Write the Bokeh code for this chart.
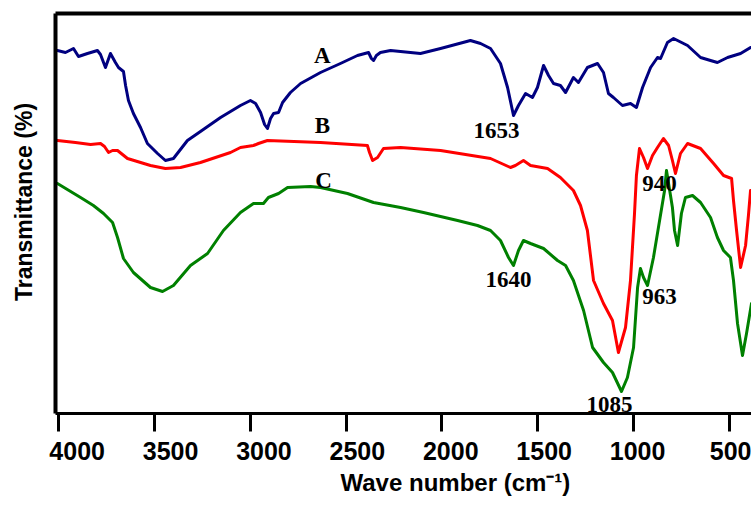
from bokeh.plotting import figure
from bokeh.models import Range1d, FixedTicker, LinearAxis, Title, CustomLabelingPolicy
from bokeh.core.properties import value
from bokeh.embed import file_html
from bokeh.resources import INLINE

# ---- data (wave number in cm-1, transmittance in arbitrary %) ----
wn_a = [4008, 3966, 3924, 3898, 3851, 3799, 3783, 3757, 3731, 3705, 3689, 3663, 3652, 3637,
        3611, 3574, 3538, 3485, 3444, 3402, 3329, 3261, 3156, 3052, 3000, 2973, 2947, 2926,
        2911, 2895, 2879, 2853, 2832, 2791, 2738, 2634, 2530, 2441, 2383, 2368, 2357, 2342,
        2321, 2268, 2112, 2007, 1851, 1798, 1746, 1694, 1657, 1626, 1600, 1563, 1527, 1501,
        1469, 1443, 1417, 1381, 1354, 1313, 1287, 1240, 1187, 1156, 1130, 1104, 1057, 1015,
        984, 952, 910, 874, 858, 822, 790, 717, 649, 597, 561, 508, 440, 388]
t_a = [90.75, 90.25, 91.25, 89.25, 90, 90.75, 89.75, 86.5, 90, 87.75, 86.5, 85.5, 82, 78.25,
       75, 71.5, 67.5, 65, 63.25, 63.75, 68.25, 70.5, 74, 77, 78.25, 77.5, 75.25, 72.25,
       71.25, 73.75, 75, 75.25, 77.75, 80.25, 82.5, 85.25, 87.5, 89.5, 90.25, 88.75, 88.25, 89.5,
       90.25, 90.75, 90, 91.25, 93.25, 92.5, 91.25, 87.5, 81.5, 74.5, 77, 80, 79, 81.5,
       87, 84.5, 82.5, 82, 80.25, 84, 82.75, 86.5, 87.5, 85.25, 80, 79, 77, 77.5,
       76.5, 81.5, 86.5, 89, 88.75, 92.75, 93.75, 92, 89, 88.25, 87.75, 89, 90, 91.5]

wn_b = [4008, 3914, 3835, 3783, 3762, 3741, 3720, 3694, 3668, 3642, 3522, 3444, 3365, 3261,
        3104, 3052, 2984, 2958, 2911, 2634, 2389, 2378, 2362, 2336, 2305, 2216, 2007, 1746,
        1642, 1616, 1574, 1537, 1448, 1381, 1313, 1276, 1240, 1208, 1156, 1109, 1078, 1041,
        1015, 994, 984, 968, 947, 926, 900, 874, 843, 816, 796, 780, 754, 717, 649, 581,
        529, 487, 477, 461, 440, 414, 399, 388]
t_b = [68.25, 67.75, 67.25, 67.5, 66.75, 65.25, 65.75, 65.75, 64.75, 63.75, 62, 61.25, 61.5, 62.75,
       65.25, 66.5, 67, 67.5, 68.25, 67.75, 67, 65.25, 63.25, 64, 66.25, 66.5, 65.75, 63.75,
       61.5, 62, 63.25, 62, 61.25, 59, 55.75, 52, 45.75, 33.25, 27.5, 23.25, 15.25, 21.5,
       33.25, 50, 59.5, 66.25, 64, 61.25, 64.5, 66.5, 68.75, 67, 63.25, 60, 65, 67.5, 66.25, 62.5,
       59.5, 58.75, 53.25, 45.75, 36.5, 42, 49.5, 55.75]

wn_c = [4008, 3887, 3820, 3767, 3720, 3694, 3663, 3611, 3522, 3459, 3402, 3313, 3224, 3141,
        3052, 2984, 2932, 2906, 2853, 2806, 2686, 2634, 2493, 2357, 2216, 2096, 1918, 1814,
        1746, 1694, 1652, 1626, 1600, 1574, 1537, 1469, 1396, 1354, 1313, 1260, 1213, 1156,
        1109, 1062, 1031, 999, 978, 963, 947, 926, 895, 863, 837, 827, 806, 796, 785, 769,
        749, 728, 691, 649, 597, 561, 529, 493, 477, 456, 430, 409, 383]
t_c = [57.5, 54, 52, 50, 47.75, 44, 38.75, 35.25, 31.5, 30.5, 32, 37, 40, 45.75,
       50.25, 52.5, 52.5, 54, 55, 56.5, 56.75, 56.5, 55, 52.75, 51.5, 50.25, 48.25, 47,
       45.75, 43.25, 39, 37, 40.75, 43.25, 42.5, 41.25, 38.25, 37, 33.25, 25.75, 16.5, 12.75,
       10.25, 5.5, 9, 16.5, 31.5, 36.25, 34, 32, 39, 48.25, 55.75, 60.75, 54.5, 51.5, 45.75, 42,
       50, 54, 54.5, 52.75, 49, 44, 40.75, 39, 33.25, 22.5, 14.5, 20, 27.5]

ann_text = ["A", "B", "C", "1653", "1640", "1085", "963", "940"]
ann_x = [2624, 2624, 2618, 1715, 1652, 1125, 863, 863]
ann_y = [89.5, 72, 58.25, 70.75, 33.5, 2.25, 29.25, 57.5]

tick_values = [4000, 3500, 3000, 2500, 2000, 1500, 1000, 500]

# ---- figure ----
p = figure(width=751, height=506, x_range=Range1d(4018, 383), y_range=Range1d(0, 100),
           output_backend="svg", toolbar_location=None,
           min_border_left=55, min_border_right=0, min_border_top=13, min_border_bottom=93)
p.outline_line_color = None
p.grid.visible = False
p.background_fill_color = "white"
p.border_fill_color = "white"
# the printed tick numbers of the original sit on a slightly different scale than its tick marks
p.extra_x_ranges = {"labels": Range1d(4116, 390)}

p.line(wn_a, t_a, line_color="#000080", line_width=3, line_join="round", line_cap="round")
p.line(wn_b, t_b, line_color="#ff0000", line_width=3, line_join="round", line_cap="round")
p.line(wn_c, t_c, line_color="#008000", line_width=3, line_join="round", line_cap="round")

p.text(x=ann_x, y=ann_y, text=ann_text, text_font=value("Liberation Serif"),
       text_font_style="bold", text_font_size="23px", text_color="black",
       text_align="center", text_baseline="middle")

no_labels = CustomLabelingPolicy(code="""
const all = [...indices]
for (const i of all) indices.unset(i)
return indices
""")

# main bottom axis: line + tick marks only
xa = p.xaxis[0]
xa.ticker = FixedTicker(ticks=tick_values)
xa.axis_line_width = 3
xa.axis_line_color = "black"
xa.major_tick_out = 18
xa.major_tick_in = 0
xa.major_tick_line_width = 3
xa.minor_tick_out = 0
xa.minor_tick_in = 0
xa.major_label_policy = no_labels
xa.major_label_text_font_size = "0px"
xa.major_label_standoff = 0

# tick numbers
lab = LinearAxis(x_range_name="labels", ticker=FixedTicker(ticks=tick_values),
                 axis_line_color=None, major_tick_out=0, major_tick_in=0,
                 minor_tick_out=0, minor_tick_in=0, major_label_standoff=10,
                 major_label_text_font="Liberation Sans", major_label_text_font_size="25px",
                 major_label_text_font_style="bold", major_label_text_color="black")
p.add_layout(lab, "below")

ya = p.yaxis[0]
ya.ticker = FixedTicker(ticks=[])
ya.axis_line_width = 4
ya.axis_line_color = "black"
ya.major_tick_out = 0
ya.major_tick_in = 0
ya.minor_tick_out = 0
ya.minor_tick_in = 0
ya.major_label_text_font_size = "0px"
ya.major_label_standoff = 0
ya.axis_label = "\u2003Transmittance (%)"
ya.axis_label_text_font = "Liberation Sans"
ya.axis_label_text_font_style = "bold"
ya.axis_label_text_font_size = "23px"
ya.axis_label_text_color = "black"
ya.axis_label_standoff = 19

top = LinearAxis(ticker=FixedTicker(ticks=[]), axis_line_width=4, axis_line_color="black",
                 major_tick_out=0, major_tick_in=0, minor_tick_out=0, minor_tick_in=0,
                 major_label_text_font_size="0px", major_label_standoff=0)
p.add_layout(top, "above")

xtitle = Title(text="Wave number (cm\u207b\u00b9)", align="left", offset=285,
               text_font="Liberation Sans", text_font_style="bold", text_font_size="24px",
               text_color="black", standoff=8)
p.add_layout(xtitle, "below")

open("out.html", "w").write(file_html(p, INLINE))
